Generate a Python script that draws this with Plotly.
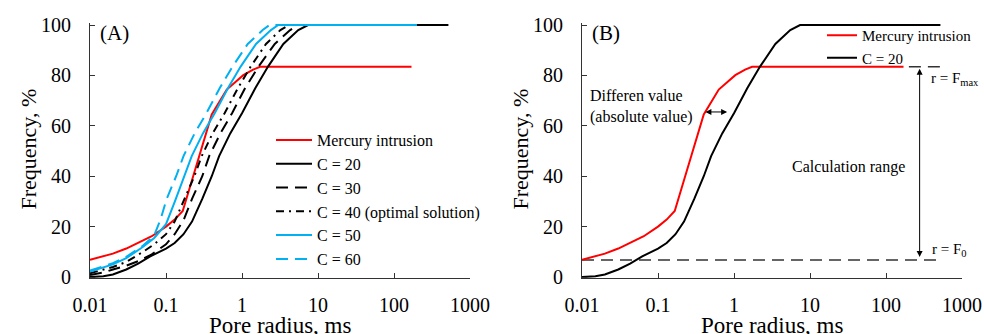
import math
import plotly.graph_objects as go

# ---------------- data ----------------
radius_ticks = [0.01, 0.1, 1, 10, 100, 1000]
radius_tick_text = ["0.01", "0.1", "1", "10", "100", "1000"]
freq_ticks = [0, 20, 40, 60, 80, 100]
x_title = "Pore radius, ms"
y_title = "Frequency, %"

hg_x = [0.01, 0.02, 0.03, 0.045, 0.065, 0.1, 0.13, 0.166, 0.23, 0.3, 0.4, 0.63, 1.04, 1.4, 1.73, 170]
hg_y = [6.8, 9.3, 11.3, 13.7, 16.2, 20, 22.8, 26.2, 40, 52, 64.5, 74.4, 80.1, 82.3, 83.4, 83.4]

c20_x = [0.01, 0.015, 0.02, 0.03, 0.043, 0.062, 0.1, 0.13, 0.17, 0.22, 0.3, 0.4, 0.5, 0.7, 1.0, 1.5, 2.2, 3.5, 5.5, 7.4, 520]
c20_y = [0, 0.3, 1, 3, 5.3, 8.2, 11.3, 13.5, 17, 22, 31, 40, 48, 57, 65, 75, 83.5, 92.5, 98, 100, 100]

c30_x = [0.01, 0.015, 0.02, 0.03, 0.045, 0.065, 0.1, 0.13, 0.17, 0.22, 0.3, 0.37, 0.52, 0.74, 1.1, 1.65, 2.7, 4.3, 5.5, 200]
c30_y = [0.8, 1.8, 3, 4.5, 6.5, 9, 13, 17, 22.5, 31, 40, 48, 57, 65, 75, 83.5, 92.5, 98, 100, 100]

c40_x = [0.01, 0.02, 0.03, 0.05, 0.07, 0.1, 0.13, 0.177, 0.236, 0.295, 0.41, 0.59, 0.885, 1.3, 2.07, 3.2, 4.2, 200]
c40_y = [1.5, 4, 6, 10, 13, 17, 22, 31, 40, 48, 57, 65, 75, 83.5, 92.5, 98, 100, 100]

c50_x = [0.01, 0.02, 0.03, 0.05, 0.07, 0.1, 0.131, 0.175, 0.218, 0.306, 0.437, 0.655, 0.96, 1.53, 2.4, 3.0, 200]
c50_y = [2.2, 5, 7.5, 12, 15.5, 21, 30, 40, 48, 57, 65, 75, 83.5, 92.5, 98, 100, 100]

c60_x = [0.01, 0.02, 0.03, 0.05, 0.07, 0.085, 0.102, 0.136, 0.17, 0.238, 0.34, 0.51, 0.75, 1.19, 1.87, 2.3, 200]
c60_y = [2.6, 5.5, 8, 12.5, 16.5, 23, 31, 40, 48, 57, 65, 75, 83.5, 92.5, 98, 100, 100]

# panel B reference lines / markers (radius values)
f0_line_x = [0.01, 520]
fmax_line_x = [200, 520]
range_arrow_r = 277
diff_arrow_r = [0.42, 0.85]
diff_arrow_f = 65.5

# ---------------- styling ----------------
FONT = "Liberation Serif, Times New Roman, serif"
RED = "#ff0000"
BLUE = "#00b0f0"
BLACK = "#000000"
W = 984
H = 334
XA_DOM = [90 / W, 470 / W]
XB_DOM = [582 / W, 962 / W]

fig = go.Figure()

def add(x, y, name, color, dash, xa, ya, legend, showlegend=True, width=2):
    fig.add_trace(go.Scatter(
        x=x, y=y, mode="lines", name=name,
        line=dict(color=color, dash=dash, width=width),
        xaxis=xa, yaxis=ya, legend=legend, showlegend=showlegend,
        hoverinfo="skip"))

# Panel A
add(hg_x, hg_y, "Mercury intrusion", RED, "solid", "x", "y", "legend")
add(c20_x, c20_y, "C = 20", BLACK, "solid", "x", "y", "legend")
add(c30_x, c30_y, "C = 30", BLACK, "12px,7px", "x", "y", "legend")
add(c40_x, c40_y, "C = 40 (optimal solution)", BLACK, "8px,5px,2px,5px", "x", "y", "legend")
add(c50_x, c50_y, "C = 50", BLUE, "solid", "x", "y", "legend")
add(c60_x, c60_y, "C = 60", BLUE, "12px,7px", "x", "y", "legend")

# Panel B
f0 = hg_y[0]
fmax = hg_y[-1]
add(f0_line_x, [f0, f0], "F0", "#333333", "12px,7px", "x2", "y2", "legend2", showlegend=False, width=1.5)
add(fmax_line_x, [fmax, fmax], "Fmax", "#333333", "12px,7px", "x2", "y2", "legend2", showlegend=False, width=1.5)
add(hg_x, hg_y, "Mercury intrusion", RED, "solid", "x2", "y2", "legend2")
add(c20_x, c20_y, "C = 20", BLACK, "solid", "x2", "y2", "legend2")

axis_common = dict(
    type="log", range=[-2, 3], tickvals=radius_ticks, ticktext=radius_tick_text,
    ticks="inside", ticklen=5, tickwidth=1, tickcolor="#333333",
    showline=True, linecolor="#333333", linewidth=1, showgrid=False, zeroline=False,
    tickfont=dict(family=FONT, size=20, color=BLACK),
    ticklabelstandoff=9, automargin=False,
)
yaxis_common = dict(
    range=[-0.5, 100.8], tickvals=freq_ticks,
    ticks="inside", ticklen=5, tickwidth=1, tickcolor="#333333",
    showline=True, linecolor="#333333", linewidth=1, showgrid=False, zeroline=False,
    tickfont=dict(family=FONT, size=20, color=BLACK),
    ticklabelstandoff=14, automargin=False,
    domain=[(H - 278.3) / H, (H - 23) / H],
)

fig.update_layout(
    template="none",
    width=W, height=H,
    margin=dict(l=0, r=0, t=0, b=0, autoexpand=False),
    paper_bgcolor="white", plot_bgcolor="white",
    font=dict(family=FONT, color=BLACK),
    xaxis=dict(axis_common, domain=XA_DOM, anchor="y"),
    yaxis=dict(yaxis_common, anchor="x"),
    xaxis2=dict(axis_common, domain=XB_DOM, anchor="y2"),
    yaxis2=dict(yaxis_common, anchor="x2"),
    legend=dict(x=271 / W, y=(H - 123) / H, xanchor="left", yanchor="top",
                bgcolor="rgba(0,0,0,0)", font=dict(family=FONT, size=16, color=BLACK),
                itemwidth=36, tracegroupgap=0),
    legend2=dict(x=822 / W, y=(H - 19) / H, xanchor="left", yanchor="top",
                 bgcolor="rgba(0,0,0,0)", font=dict(family=FONT, size=15, color=BLACK),
                 itemwidth=30, tracegroupgap=0),
    showlegend=True,
)

ann_font = dict(family=FONT, size=15, color=BLACK)
title_font_x = dict(family=FONT, size=23, color=BLACK)
title_font_y = dict(family=FONT, size=22, color=BLACK)
annotations = [
    dict(text="(A)", x=98 / W, y=(H - 33) / H, xref="paper", yref="paper",
         xanchor="left", yanchor="middle", showarrow=False, font=dict(family=FONT, size=21, color=BLACK)),
    dict(text="(B)", x=590 / W, y=(H - 33) / H, xref="paper", yref="paper",
         xanchor="left", yanchor="middle", showarrow=False, font=dict(family=FONT, size=21, color=BLACK)),
    # axis titles
    dict(text=x_title, x=sum(XA_DOM) / 2, y=(H - 325) / H, xref="paper", yref="paper",
         xanchor="center", yanchor="middle", showarrow=False, font=title_font_x),
    dict(text=x_title, x=sum(XB_DOM) / 2, y=(H - 325) / H, xref="paper", yref="paper",
         xanchor="center", yanchor="middle", showarrow=False, font=title_font_x),
    dict(text=y_title, x=27.5 / W, y=(H - 149) / H, xref="paper", yref="paper", textangle=-90,
         xanchor="center", yanchor="middle", showarrow=False, font=title_font_y),
    dict(text=y_title, x=519.5 / W, y=(H - 149) / H, xref="paper", yref="paper", textangle=-90,
         xanchor="center", yanchor="middle", showarrow=False, font=title_font_y),
    # vertical range arrow
    dict(x=math.log10(range_arrow_r), y=f0 + 1.2, ax=math.log10(range_arrow_r), ay=fmax - 0.2,
         xref="x2", yref="y2", axref="x2", ayref="y2", text="", showarrow=True,
         arrowhead=2, startarrowhead=2, arrowside="end+start", arrowsize=1.2, startarrowsize=1.2,
         arrowwidth=1, arrowcolor=BLACK),
    # horizontal difference arrow
    dict(x=math.log10(diff_arrow_r[0]), y=diff_arrow_f, ax=math.log10(diff_arrow_r[1]), ay=diff_arrow_f,
         xref="x2", yref="y2", axref="x2", ayref="y2", text="", showarrow=True,
         arrowhead=2, startarrowhead=2, arrowside="end+start", arrowsize=1.2, startarrowsize=1.2,
         arrowwidth=1, arrowcolor=BLACK),
    dict(text="Differen value<br>(absolute value)", x=math.log10(0.012), y=67.5, xref="x2", yref="y2",
         xanchor="left", yanchor="middle", align="left", showarrow=False, font=dict(family=FONT, size=16, color=BLACK)),
    dict(text="Calculation range", x=1.5, y=43.7, xref="x2", yref="y2",
         xanchor="center", yanchor="middle", showarrow=False, font=dict(family=FONT, size=16, color=BLACK)),
    dict(text="r = F<sub>max</sub>", x=2.56, y=78.5, xref="x2", yref="y2",
         xanchor="left", yanchor="middle", showarrow=False, font=ann_font),
    dict(text="r = F<sub>0</sub>", x=2.58, y=10.8, xref="x2", yref="y2",
         xanchor="left", yanchor="middle", showarrow=False, font=ann_font),
]
fig.update_layout(annotations=annotations)

fig.write_html("out.html")
